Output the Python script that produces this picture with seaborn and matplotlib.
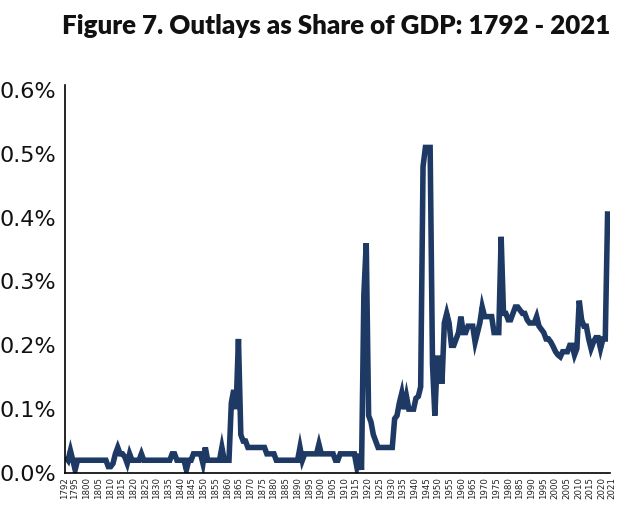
import numpy as np
import pandas as pd
import matplotlib
matplotlib.use("Agg")
import matplotlib.pyplot as plt
import matplotlib.transforms as mtransforms
from matplotlib.ticker import FuncFormatter
import seaborn as sns

# ---- data (outlays as % of GDP) ----
first_year = 1792
last_year = 2021
share_1790s = [0.025, 0.02, 0.035, 0.02, 0.005, 0.02, 0.02, 0.02]          # 1792-1799
share_1800s = [0.02, 0.02, 0.02, 0.02, 0.02, 0.02, 0.02, 0.02, 0.02, 0.02]
share_1810s = [0.01, 0.01, 0.015, 0.03, 0.04, 0.03, 0.03, 0.025, 0.015, 0.03]
share_1820s = [0.02, 0.02, 0.02, 0.02, 0.03, 0.02, 0.02, 0.02, 0.02, 0.02]
share_1830s = [0.02, 0.02, 0.02, 0.02, 0.02, 0.02, 0.02, 0.03, 0.03, 0.02]
share_1840s = [0.02, 0.02, 0.02, 0.005, 0.02, 0.02, 0.03, 0.03, 0.03, 0.03]
share_1850s = [0.015, 0.04, 0.02, 0.02, 0.02, 0.02, 0.02, 0.02, 0.04, 0.02]
share_1860s = [0.02, 0.02, 0.11, 0.13, 0.10, 0.21, 0.06, 0.05, 0.05, 0.04]
share_1870s = [0.04, 0.04, 0.04, 0.04, 0.04, 0.04, 0.04, 0.03, 0.03, 0.03]
share_1880s = [0.03, 0.02, 0.02, 0.02, 0.02, 0.02, 0.02, 0.02, 0.02, 0.02]
share_1890s = [0.02, 0.04, 0.02, 0.03, 0.03, 0.03, 0.03, 0.03, 0.03, 0.045]
share_1900s = [0.03, 0.03, 0.03, 0.03, 0.03, 0.03, 0.02, 0.02, 0.03, 0.03]
share_1910s = [0.03, 0.03, 0.03, 0.03, 0.03, 0.01, 0.03, 0.005, 0.28, 0.36]
share_1920s = [0.09, 0.08, 0.06, 0.05, 0.04, 0.04, 0.04, 0.04, 0.04, 0.04]
share_1930s = [0.04, 0.085, 0.09, 0.11, 0.125, 0.10, 0.12, 0.10, 0.10, 0.10]
share_1940s = [0.117, 0.12, 0.135, 0.48, 0.51, 0.51, 0.51, 0.17, 0.09, 0.18]
share_1950s = [0.18, 0.14, 0.235, 0.25, 0.235, 0.20, 0.20, 0.21, 0.22, 0.245]
share_1960s = [0.22, 0.22, 0.23, 0.23, 0.23, 0.205, 0.22, 0.235, 0.26, 0.245]
share_1970s = [0.245, 0.245, 0.245, 0.22, 0.22, 0.22, 0.37, 0.25, 0.25, 0.24]
share_1980s = [0.24, 0.25, 0.26, 0.26, 0.255, 0.25, 0.25, 0.24, 0.235, 0.235]
share_1990s = [0.235, 0.245, 0.23, 0.225, 0.22, 0.21, 0.21, 0.205, 0.198, 0.19]
share_2000s = [0.185, 0.182, 0.19, 0.19, 0.19, 0.20, 0.20, 0.185, 0.195, 0.27]
share_2010s = [0.24, 0.23, 0.23, 0.21, 0.195, 0.205, 0.212, 0.212, 0.195, 0.21]
share_2020s = [0.21, 0.41]

tick_years = [1792] + list(range(1795, 2021, 5)) + [2021]
y_ticks = [0.0, 0.1, 0.2, 0.3, 0.4, 0.5, 0.6]
title = "Figure 7. Outlays as Share of GDP: 1792 - 2021"

share = (share_1790s + share_1800s + share_1810s + share_1820s + share_1830s +
         share_1840s + share_1850s + share_1860s + share_1870s + share_1880s +
         share_1890s + share_1900s + share_1910s + share_1920s + share_1930s +
         share_1940s + share_1950s + share_1960s + share_1970s + share_1980s +
         share_1990s + share_2000s + share_2010s + share_2020s)
years = list(range(first_year, last_year + 1))
df = pd.DataFrame({"year": years, "share": share})

# ---- style ----
sns.set_theme(style="white")
plt.rcParams["font.family"] = ["DejaVu Sans"]

line_color = "#1e3a64"

fig = plt.figure(figsize=(6.24, 5.17), dpi=100)
ax = fig.add_axes([64.5 / 624, 44 / 517, (610 - 64.5) / 624, (473 - 85) / 517])

sns.lineplot(data=df, x="year", y="share", ax=ax, color=line_color,
             linewidth=4.0, sort=False, estimator=None)
for ln in ax.lines:
    ln.set_solid_joinstyle("miter")
    ln.set_solid_capstyle("butt")

ax.set_xlim(1791.5, 2022.0)
ax.set_ylim(0, 0.6078)

ax.set_yticks(y_ticks)
ax.yaxis.set_major_formatter(FuncFormatter(lambda v, p: f"{v:.1f}%"))

# label slots evenly spaced as in the reference (label band slightly
# narrower than the data band)
def label_pos(y):
    if y == tick_years[0]:
        return 1791.55
    if y == tick_years[-1]:
        return 2020.6
    return 1795.9 + (y - 1795) * 0.9895

ax.set_xticks([label_pos(y) for y in tick_years])
ax.set_xticklabels([str(y) for y in tick_years], rotation=90, fontsize=6.2,
                   color="#222222")
for lab in ax.get_yticklabels():
    lab.set_fontsize(16)
    lab.set_color("#111111")

ax.tick_params(axis="both", length=0)
ax.tick_params(axis="y", pad=6)
ax.tick_params(axis="x", pad=3)

# push the final label (2021) a little right like the reference
last_lab = ax.get_xticklabels()[-1]
last_lab.set_transform(last_lab.get_transform() +
                       mtransforms.ScaledTranslation(3.5 / 72, 0, fig.dpi_scale_trans))

for side in ["top", "right"]:
    ax.spines[side].set_visible(False)
for side in ["left", "bottom"]:
    ax.spines[side].set_color("black")
    ax.spines[side].set_linewidth(1.2)

ax.set_xlabel("")
ax.set_ylabel("")

fig.text(336.5 / 624, 1 - 26 / 517, title, ha="center", va="center",
         fontsize=18.6, fontweight="heavy", family=["Lato", "DejaVu Sans"],
         color="#111111")

fig.savefig("out.png", dpi=100)
